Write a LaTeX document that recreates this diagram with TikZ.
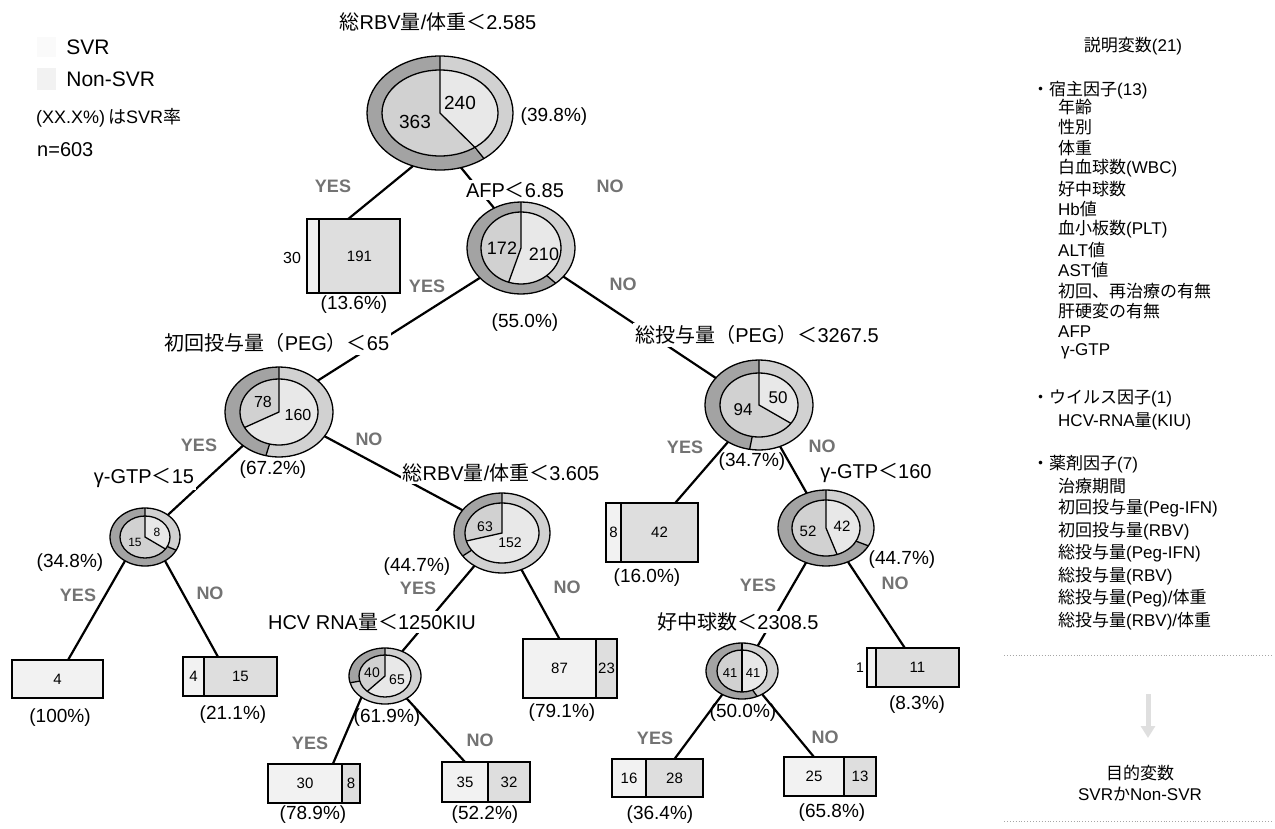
\documentclass[tikz,border=0pt]{standalone}
\usepackage{fontspec}
\setmainfont{Liberation Sans}
\newfontfamily\jp{Noto Sans CJK JP}
\usetikzlibrary{arrows.meta,positioning,calc,shapes.geometric}
\definecolor{ringdark}{gray}{0.64}
\definecolor{ringlight}{gray}{0.82}
\definecolor{pienon}{gray}{0.82}
\definecolor{piesvr}{gray}{0.91}
\definecolor{cellsvr}{gray}{0.95}
\definecolor{cellnon}{gray}{0.87}
\definecolor{yesno}{gray}{0.45}

\begin{document}
\begin{tikzpicture}[x=1pt,y=-1pt,
  hub/.style={ellipse,inner sep=0pt,outer sep=0pt},
  ring/.style={line width=1.3pt},
  link/.style={line width=2.2pt},
  cell/.style={draw,line width=1.1pt,inner sep=0pt,outer sep=0pt,font=\fontsize{15}{15}\selectfont},
  svr/.style={cell,fill=cellsvr},
  non/.style={cell,fill=cellnon},
  cond/.style={fill=white,inner sep=2pt,font=\fontsize{20}{20}\selectfont},
  pct/.style={inner sep=0pt,font=\fontsize{19}{19}\selectfont},
  num/.style={inner sep=0pt,font=\fontsize{#1}{#1}\selectfont},
  yn/.style={inner sep=0pt,text=yesno,font=\fontsize{18}{18}\selectfont\bfseries},
  lst/.style={anchor=west,inner sep=0pt,font=\fontsize{17}{17}\selectfont},
  dotline/.style={dotted,line width=0.9pt,gray!70}]
\useasboundingbox (0,0) rectangle (1275,828);

% split nodes
\foreach \nm/\cx/\cy/\rx/\ry/\irx/\iry/\ia/\oa in {
  root/440/113/73/57/58/43/-53/-53,
  afp/521/248/54/46/40/36/-108/-50,
  init/279/412/54/45/39/33/-152/-104,
  tot/759/405/54/45/39/32/-35/-100,
  gtpa/145/537/35/29/25/21/-35/-27,
  rbvb/502/533/48/40/37/30/-164.5/-145,
  gtpb/826/528/48/38/34/28/-71/-28,
  hcv/385/676/36/28/26/21/-133/-166,
  neut/742/671/36/28/25/21/-90/-65}{
  \node[hub,minimum width={2*\rx},minimum height={2*\ry}] (\nm) at (\cx,\cy) {};
  \fill[ringdark] (\nm.center) ellipse[x radius=\rx*1pt,y radius=\ry*1pt];
  \fill[ringlight] (\nm.center) -- ++(90:\rx*1pt and \ry*1pt)
    arc[start angle=90,end angle=\oa,x radius=\rx*1pt,y radius=\ry*1pt] -- cycle;
  \fill[pienon] (\nm.center) ellipse[x radius=\irx*1pt,y radius=\iry*1pt];
  \fill[piesvr] (\nm.center) -- ++(90:\irx*1pt and \iry*1pt)
    arc[start angle=90,end angle=\ia,x radius=\irx*1pt,y radius=\iry*1pt] -- cycle;
  \draw[ring] (\nm.center) ellipse[x radius=\rx*1pt,y radius=\ry*1pt]
    (\nm.center) ellipse[x radius=\irx*1pt,y radius=\iry*1pt];
  \draw[ring] (\nm.90) -- (\nm.center) -- ++(\ia:\irx*1pt and \iry*1pt);
  \draw[ring] ($(\nm.center)+(\oa:\irx*1pt and \iry*1pt)$) -- ($(\nm.center)+(\oa:\rx*1pt and \ry*1pt)$);
}

% leaves
\foreach \nm/\xl/\cy/\wa/\wb/\hh/\numa/\numb in {
  bl1/307/256/12/81/74//191,
  b8/606/532.5/15/77/59/8/42,
  b5/183/676.5/21/73/39/4/15,
  b87/523/668.5/73/21/59/87/23,
  b30/268/783.5/74/18/39/30/8,
  b35/442/782/46/42/40/35/32,
  b1/867/667.5/9/83/39//11,
  b16/612/778/34/57/38/16/28,
  b25/784/776.5/60/32/39/25/13}{
  \node[svr,minimum width=\wa,minimum height=\hh,anchor=west] (\nm-a) at (\xl,\cy) {\numa};
  \node[non,minimum width=\wb,minimum height=\hh,right=0pt of \nm-a] (\nm-b) {\numb};
}
\node[svr,minimum width=91,minimum height=38] (b4) at (57.5,679) {4};
\node[num=16] (bl1-n) at (292,258) {30};
\node[num=14] (b1-n) at (860,668) {1};

\draw[link] (root.243) -- (bl1-b.107);
\draw[link] (root.291) -- (afp.124);
\draw[link] (afp.216) -- (init.39);
\draw[link] (afp.326) -- (tot.148);
\draw[link] (init.223) -- (gtpa.44);
\draw[link] (init.332) -- (rbvb.150);
\draw[link] (gtpa.230) -- (b4.61);
\draw[link] (gtpa.310) -- (b5-b.139);
\draw[link] (rbvb.230) -- (hcv.55);
\draw[link] (rbvb.298) -- (b87-a.north);
\draw[link] (hcv.222) -- (b30-a.35);
\draw[link] (hcv.314) -- (b35-a.north);
\draw[link] (tot.230) -- (b8-b.62);
\draw[link] (tot.297) -- (gtpb.119);
\draw[link] (gtpb.240) -- (neut.58);
\draw[link] (gtpb.303) -- (b1-b.123);
\draw[link] (neut.230) -- (b16-b.north);
\draw[link] (neut.311) -- (b25-a.north);

\node[cond] (root-c) at (438,22) {{\jp 総}RBV{\jp 量}/{\jp 体重＜}2.585};
\node[cond] (afp-c) at (515,190) {AFP{\jp ＜}6.85};
\node[cond] (init-c) at (277,343) {{\jp 初回投与量（}PEG{\jp ）＜}65};
\node[cond] (tot-c) at (757,335) {{\jp 総投与量（}PEG{\jp ）＜}3267.5};
\node[cond] (gtpa-c) at (144,478) {γ-GTP{\jp ＜}15};
\node[cond] (rbvb-c) at (501,473) {{\jp 総}RBV{\jp 量}/{\jp 体重＜}3.605};
\node[cond] (gtpb-c) at (876,473) {γ-GTP{\jp ＜}160};
\node[cond] (hcv-c) at (372,622) {HCV RNA{\jp 量＜}1250KIU};
\node[cond] (neut-c) at (738,622) {{\jp 好中球数＜}2308.5};

\foreach \nm/\px/\py/\sz/\numa in {
  root-n1/415/122/19/363, root-n2/460/103/19/240,
  afp-n1/502/248/18/172, afp-n2/544/254/18/210,
  init-n1/263/402/16/78, init-n2/298/415/16/160,
  gtpa-n1/135/542/12/15, gtpa-n2/157/532/12/8,
  rbvb-n1/485/527/14/63, rbvb-n2/510/543/14/152,
  hcv-n1/372/673/14/40, hcv-n2/397/680/14/65,
  tot-n1/743/410/17/94, tot-n2/778/398/17/50,
  gtpb-n1/808/531/15/52, gtpb-n2/842/526/15/42,
  neut-n1/730/673/13/41, neut-n2/753/673/13/41}{
  \node[num=\sz] (\nm) at (\px,\py) {\numa};
}

\foreach \nm/\px/\py/\numa in {
  root/554/117/39.8, afp/525/323/55.0, init/273/470/67.2,
  gtpa/70/563/34.8, rbvb/417/567/44.7, hcv/387/718/61.9,
  tot/752/462/34.7, gtpb/902/560/44.7, neut/743/713/50.0,
  bl1/354/305/13.6, b8/647/578/16.0, b4/60/718/100,
  b5/233/715/21.1, b87/562/713/79.1, b30/313/815/78.9,
  b35/485/815/52.2, b1/917/705/8.3, b16/660/815/36.4,
  b25/832/813/65.8}{
  \node[pct] (\nm-p) at (\px,\py) {(\numa\%)};
}

\foreach \nm/\ax/\ay/\bx/\by in {
  root/333/186/610/186, afp/427/286/623/284, init/199/445/369/439,
  gtpa/78/595/210/593, rbvb/418/588/567/587, hcv/310/743/480/740,
  tot/685/447/822/446, gtpb/758/585/895/583, neut/655/738/825/737}{
  \node[yn] (\nm-yes) at (\ax,\ay) {YES};
  \node[yn] (\nm-no) at (\bx,\by) {NO};
}

% legend
\node[fill=gray!4,minimum width=19,minimum height=20,inner sep=0pt] (key-svr) at (46.5,47) {};
\node[fill=gray!10,minimum width=19,minimum height=22,inner sep=0pt] (key-non) at (46.5,79) {};
\node[lst,font=\fontsize{21}{21}\selectfont,right=10pt of key-svr] (key-svr-t) {SVR};
\node[lst,font=\fontsize{21}{21}\selectfont,right=10pt of key-non] (key-non-t) {Non-SVR};
\node[lst,font=\fontsize{18}{18}\selectfont] (key-rate) at (36,118) {(XX.X\%)\,{\jp は}SVR{\jp 率}};
\node[lst,font=\fontsize{20}{20}\selectfont] (key-n) at (37,150) {n=603};

% variables
\node[lst,anchor=center] (expl) at (1133,46) {{\jp 説明変数}(21)};
\node[lst] (host) at (1032,90) {{\jp ・宿主因子}(13)};
\foreach \numa [count=\kk] in {{\jp 年齢},{\jp 性別},{\jp 体重},{\jp 白血球数}(WBC),{\jp 好中球数},
  Hb{\jp 値},{\jp 血小板数}(PLT),ALT{\jp 値},AST{\jp 値},{\jp 初回、再治療の有無},
  {\jp 肝硬変の有無},AFP,\,γ-GTP}{
  \node[lst] (host-\kk) at (1058,{86.6+20.4*\kk}) {\numa};
}
\node[lst] (virus) at (1032,398) {{\jp ・ウイルス因子}(1)};
\node[lst] (virus-1) at (1058,421) {HCV-RNA{\jp 量}(KIU)};
\node[lst] (drug) at (1032,464) {{\jp ・薬剤因子}(7)};
\foreach \numa [count=\kk] in {{\jp 治療期間},{\jp 初回投与量}(Peg-IFN),{\jp 初回投与量}(RBV),
  {\jp 総投与量}(Peg-IFN),{\jp 総投与量}(RBV),{\jp 総投与量}(Peg)/{\jp 体重},
  {\jp 総投与量}(RBV)/{\jp 体重}}{
  \node[lst] (drug-\kk) at (1058,{463.5+22.5*\kk}) {\numa};
}
\coordinate (sep1-l) at (1004,655);
\coordinate (sep1-r) at (1273,655);
\coordinate (sep2-l) at (1004,821);
\coordinate (sep2-r) at (1273,821);
\draw[dotline] (sep1-l) -- (sep1-r);
\draw[dotline] (sep2-l) -- (sep2-r);
\coordinate (aim-top) at (1148,694);
\coordinate (aim-bot) at (1148,738);
\draw[line width=5pt,gray!25,-{Triangle[length=12pt,width=14pt]}] (aim-top) -- (aim-bot);
\node[lst,anchor=center] (goal) at (1140,773) {{\jp 目的変数}};
\node[lst,anchor=center] (goal-t) at (1140,794) {SVR{\jp か}Non-SVR};
\end{tikzpicture}
\end{document}
